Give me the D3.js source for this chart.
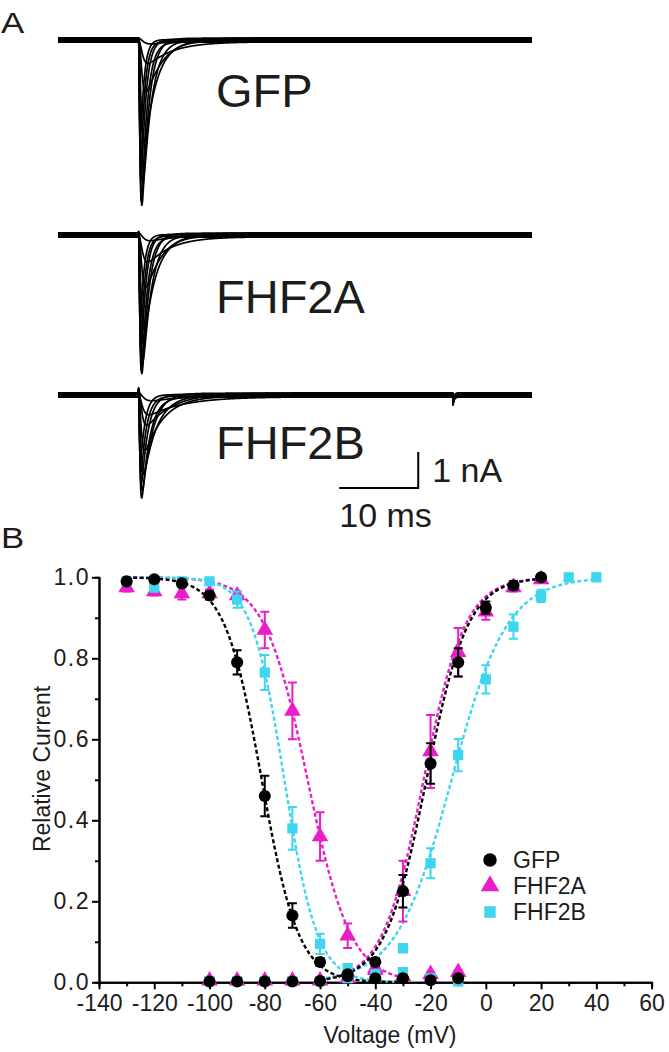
<!DOCTYPE html>
<html>
<head>
<meta charset="utf-8">
<script src="https://cdn.jsdelivr.net/npm/d3@7"></script>
<style>
  body { margin: 0; background: #fff; }
  svg { display: block; font-family: "Liberation Sans", Arial, sans-serif; }
</style>
</head>
<body>
<svg id="fig" width="669" height="1052"></svg>
<script>
// ---------- panel A: current families (nA, ms) ----------
const familyNames = ["GFP", "FHF2A", "FHF2B"];
const gfpAmp   = [0.15, 0.6, 1.5, 2.8, 4.0, 4.64, 4.4, 3.9, 3.3, 2.6];
const gfpTauH  = [4.5, 3.2, 2.2, 1.5, 1.1, 0.85, 0.7, 0.6, 0.5, 0.45];
const fhf2aAmp  = [0.2, 0.7, 1.5, 2.6, 3.5, 3.9, 3.7, 3.3, 2.8, 2.2];
const fhf2aTauH = [4.0, 3.0, 2.1, 1.5, 1.1, 0.85, 0.7, 0.6, 0.52, 0.46];
const fhf2bAmp  = [0.2, 0.5, 0.9, 1.5, 2.2, 2.7, 2.8, 2.5, 2.1, 1.7];
const fhf2bTauH = [6.0, 4.5, 3.3, 2.4, 1.7, 1.25, 1.0, 0.85, 0.7, 0.6];
const tauM = [0.45, 0.36, 0.29, 0.23, 0.18, 0.14, 0.12, 0.105, 0.095, 0.085];
const leakOffset = [0.04, -0.05, 0.06, -0.03, 0.0, 0.05, -0.06, 0.02, -0.03, 0.01];
const onsetArtifact = [0, 0.04, 0.14];
const offsetArtifact = [0, 0, -0.22];
const pulseOn = 10.2, pulseOff = 50;

// ---------- panel B: voltage dependence ----------
const inactV = [-130, -120, -110, -100, -90, -80, -70, -60, -50, -40, -30, -20, -10];
const gfpInact   = [0.99, 0.995, 0.985, 0.955, 0.79, 0.46, 0.165, 0.05, 0.02, 0.01, 0.01, 0.005, 0.01];
const gfpInactE  = [0.005, 0.005, 0.005, 0.01, 0.03, 0.05, 0.03, 0.01, 0.005, 0, 0, 0, 0];
const fhf2aInact  = [0.975, 0.965, 0.96, 0.96, 0.955, 0.87, 0.67, 0.36, 0.115, 0.03, 0.015, 0.02, 0.025];
const fhf2aInactE = [0.01, 0.01, 0.015, 0.01, 0.01, 0.045, 0.07, 0.06, 0.03, 0.01, 0.005, 0.005, 0.005];
const fhf2bInact  = [0.99, 0.975, 0.99, 0.99, 0.945, 0.765, 0.38, 0.095, 0.035, 0.015, 0.025, 0.01, 0.002];
const fhf2bInactE = [0.005, 0.01, 0.005, 0.005, 0.02, 0.043, 0.053, 0.025, 0.01, 0.005, 0.01, 0.005, 0];

const actV  = [-100, -90, -80, -70, -60, -50, -40, -30, -20, -10, 0, 10, 20];
const actVB = [-100, -90, -80, -70, -60, -50, -40, -30, -20, -10, 0, 10, 20, 30, 40];
const gfpAct   = [0.002, 0.002, 0.002, 0.002, 0.003, 0.015, 0.05, 0.225, 0.54, 0.79, 0.925, 0.98, 1.0];
const gfpActE  = [0, 0, 0, 0, 0, 0.005, 0.01, 0.04, 0.05, 0.035, 0.015, 0.01, 0.005];
const fhf2aAct  = [0.004, 0.004, 0.004, 0.004, 0.004, 0.01, 0.035, 0.225, 0.57, 0.815, 0.915, 0.975, 0.995];
const fhf2aActE = [0, 0, 0, 0, 0, 0.005, 0.01, 0.075, 0.09, 0.06, 0.02, 0.01, 0.005];
const fhf2bAct  = [0.003, 0.003, 0.003, 0.003, 0.003, 0.01, 0.02, 0.084, 0.294, 0.561, 0.748, 0.878, 0.954, 1.0, 1.0];
const fhf2bActE = [0, 0, 0, 0, 0, 0.005, 0.005, 0.01, 0.037, 0.04, 0.035, 0.03, 0.015, 0.005, 0.005];

// Boltzmann fit parameters: GFP, FHF2A, FHF2B
const inactVhalf = [-81.1, -64.5, -72.9];
const inactSlope = [6.7, 7.8, 6.0];
const actVhalf = [-21.5, -22.5, -12.4];
const actSlope = [7.5, 7.5, 10];

const xTicks = d3.range(-140, 61, 20);
const yTicks = [0, 0.2, 0.4, 0.6, 0.8, 1.0];

const colors = ["#000000", "#e91ec8", "#3ed5ee"];
const symbols = [d3.symbolCircle, d3.symbolTriangle, d3.symbolSquare];
const symbolSizes = [115, 120, 105];

const svg = d3.select("#fig");
const ink = "#1c1c1c";

// ===================== panel A =====================
svg.append("text").attr("transform", "translate(1,33) scale(1.2,1)")
  .attr("font-size", 29).attr("fill", ink).text("A");

const tScale = d3.scaleLinear().domain([0, 60]).range([58, 532]);
const famAmp = [gfpAmp, fhf2aAmp, fhf2bAmp];
const famTauH = [gfpTauH, fhf2aTauH, fhf2bTauH];
const famBase = [40, 235, 395];
const famLabelY = [107, 313, 459];
const times = d3.range(0, 60.0001, 0.01);

function peakOf(tm, th) {
  const x = tm / (3 * th + tm);
  const t = -tm * Math.log(x);
  return Math.pow(1 - x, 3) * Math.exp(-t / th);
}

famAmp.forEach((amps, f) => {
  const iScale = d3.scaleLinear().domain([-1, 0]).range([famBase[f] + 36, famBase[f]]);
  const g = svg.append("g");
  amps.forEach((a, i) => {
    const th = famTauH[f][i], tm = tauM[i];
    const norm = a / peakOf(tm, th);
    const pts = times.map(t => {
      let I = leakOffset[i];
      if (t >= pulseOn && t <= pulseOff) {
        const s = t - pulseOn;
        I -= norm * Math.pow(1 - Math.exp(-s / tm), 3) * Math.exp(-s / th);
      }
      if (t >= pulseOn) I += onsetArtifact[f] * Math.exp(-(t - pulseOn) / 0.08);
      if (t >= pulseOff) I += offsetArtifact[f] * Math.exp(-(t - pulseOff) / 0.15);
      return [t, I];
    });
    g.append("path")
      .attr("d", d3.line().x(d => tScale(d[0])).y(d => iScale(d[1]))(pts))
      .attr("fill", "none")
      .attr("stroke", "#000")
      .attr("stroke-width", 1.7)
      .attr("stroke-linejoin", "round");
  });
  svg.append("text")
    .attr("x", 216).attr("y", famLabelY[f])
    .attr("font-size", 47).attr("fill", ink)
    .text(familyNames[f]);
});

// scale bar: 10 ms x 1 nA
const barT0 = 35.6, barY = 488;
svg.append("path")
  .attr("d", `M${tScale(barT0)},${barY}H${tScale(barT0 + 10)}V${barY - 36}`)
  .attr("fill", "none").attr("stroke", "#000").attr("stroke-width", 2);
svg.append("text").attr("x", tScale(barT0 + 10) + 14).attr("y", 482)
  .attr("font-size", 34).attr("fill", ink).text("1 nA");
svg.append("text").attr("x", tScale(barT0)).attr("y", 527)
  .attr("font-size", 34).attr("fill", ink).text("10 ms");

// ===================== panel B =====================
svg.append("text").attr("transform", "translate(1,548) scale(1.2,1)")
  .attr("font-size", 29).attr("fill", ink).text("B");

const x = d3.scaleLinear().domain([-140, 60]).range([99, 651.6]);
const y = d3.scaleLinear().domain([0, 1]).range([982.3, 577.3]);

function styleAxis(sel) {
  sel.select(".domain").attr("stroke", "#000").attr("stroke-width", 2);
  sel.selectAll(".tick line").attr("stroke", "#000").attr("stroke-width", 2);
  sel.selectAll("text").attr("font-size", 23).attr("fill", ink)
    .attr("font-family", "Liberation Sans, Arial, sans-serif");
}

svg.append("g").attr("transform", `translate(0,${y(0)})`)
  .call(d3.axisBottom(x).tickValues(d3.range(-130, 60, 20)).tickSize(4).tickFormat(""))
  .call(styleAxis);
svg.append("g").attr("transform", `translate(${x(-140)},0)`)
  .call(d3.axisLeft(y).tickValues(d3.range(0.1, 1, 0.2)).tickSize(4).tickFormat(""))
  .call(styleAxis);
svg.append("g").attr("transform", `translate(0,${y(0)})`)
  .call(d3.axisBottom(x).tickValues(xTicks).tickSize(7).tickSizeOuter(0).tickPadding(5)
    .tickFormat(d => String(d)))
  .call(styleAxis);
svg.append("g").attr("transform", `translate(${x(-140)},0)`)
  .call(d3.axisLeft(y).tickValues(yTicks).tickSize(7).tickSizeOuter(0).tickPadding(2)
    .tickFormat(d => d.toFixed(1)))
  .call(styleAxis)
  .call(g => g.selectAll("text").attr("letter-spacing", 1.5));

svg.append("text").attr("x", 390).attr("y", 1043).attr("text-anchor", "middle")
  .attr("font-size", 23).attr("fill", ink).text("Voltage (mV)");
svg.append("text").attr("transform", "translate(50,769) rotate(-90)").attr("text-anchor", "middle")
  .attr("font-size", 23).attr("fill", ink).text("Relative Current");

// fits
const boltzInact = (v, f) => 1 / (1 + Math.exp((v - inactVhalf[f]) / inactSlope[f]));
const boltzAct = (v, f) => 1 / (1 + Math.exp((actVhalf[f] - v) / actSlope[f]));
const fitLine = d3.line().x(d => x(d[0])).y(d => y(d[1]));
const actEnd = [20, 20, 40];
[1, 2, 0].forEach(f => {
  const inact = d3.range(-130, -29.9, 0.5).map(v => [v, boltzInact(v, f)]);
  const act = d3.range(-60, actEnd[f] + 0.01, 0.5).map(v => [v, boltzAct(v, f)]);
  [inact, act].forEach(pts => {
    svg.append("path").attr("d", fitLine(pts))
      .attr("fill", "none").attr("stroke", colors[f])
      .attr("stroke-width", 2.4).attr("stroke-dasharray", "4,2.5");
  });
});

// points with error bars
const series = [
  [[inactV, fhf2aInact, fhf2aInactE], [actV, fhf2aAct, fhf2aActE], 1],
  [[inactV, fhf2bInact, fhf2bInactE], [actVB, fhf2bAct, fhf2bActE], 2],
  [[inactV, gfpInact, gfpInactE], [actV, gfpAct, gfpActE], 0]
];
series.forEach(([inact, act, f]) => {
  const g = svg.append("g");
  [inact, act].forEach(([vs, vals, errs]) => {
    const pts = vs.map((v, i) => ({v, m: vals[i], e: errs[i]}));
    g.selectAll(null).data(pts.filter(d => d.e > 0)).enter().append("path")
      .attr("d", d => {
        const cx = x(d.v), y1 = y(d.m + d.e), y2 = y(d.m - d.e);
        return `M${cx},${y1}V${y2}M${cx - 4.5},${y1}H${cx + 4.5}M${cx - 4.5},${y2}H${cx + 4.5}`;
      })
      .attr("fill", "none").attr("stroke", colors[f]).attr("stroke-width", 2);
    g.selectAll(null).data(pts).enter().append("path")
      .attr("transform", d => `translate(${x(d.v)},${y(d.m)})`)
      .attr("d", d3.symbol().type(symbols[f]).size(symbolSizes[f]))
      .attr("fill", colors[f]);
  });
});

// legend
const legendY = [860, 886, 912];
familyNames.forEach((name, f) => {
  svg.append("path").attr("transform", `translate(490,${legendY[f]})`)
    .attr("d", d3.symbol().type(symbols[f]).size(symbolSizes[f] * 1.25))
    .attr("fill", colors[f]);
  svg.append("text").attr("x", 513).attr("y", legendY[f] + 8)
    .attr("font-size", 23).attr("fill", ink).text(name);
});
</script>
</body>
</html>
